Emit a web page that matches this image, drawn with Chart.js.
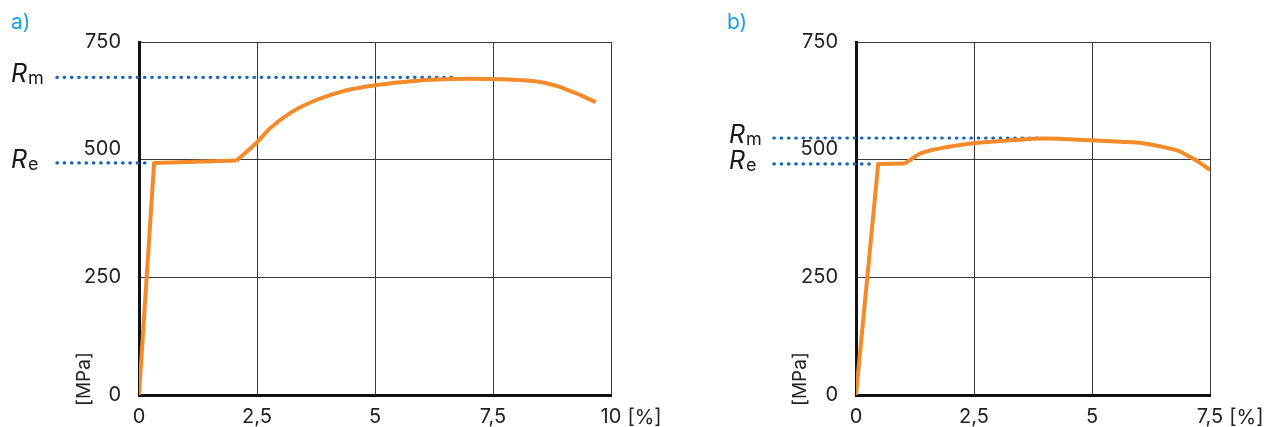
<!DOCTYPE html>
<html>
<head>
<meta charset="utf-8">
<script src="https://cdn.jsdelivr.net/npm/chart.js@4.4.0/dist/chart.umd.min.js"></script>
<style>
  body { margin: 0; background: #fff; width: 1274px; height: 427px; overflow: hidden; position: relative; }
  #chartA { position: absolute; left: 0; top: 0; }
  #chartB { position: absolute; left: 700px; top: 0; }
</style>
</head>
<body>
<canvas id="chartA" width="700" height="427"></canvas>
<canvas id="chartB" width="574" height="427"></canvas>
<script>
// panel a) - strain [%] vs stress [MPa]
const strainA = [0, 0.32, 2.07, 2.5, 2.78, 3.2, 3.62, 4.05, 4.47, 5.0, 5.6, 6.2, 7.0, 7.6, 8.1, 8.56, 8.9, 9.13, 9.4, 9.68];
const stressA = [0, 493, 498, 537, 567, 599, 621, 637, 649, 658, 665, 670, 672, 671, 669, 664, 655, 646, 635, 622];
const rmA = 675;
const reA = 493;
const rmLineA = [-1.74, 6.7];
const reLineA = [-1.74, 0.25];

// panel b)
const strainB = [0, 0.47, 1.04, 1.2, 1.36, 1.55, 1.78, 2.2, 2.5, 3.26, 4.0, 5.0, 5.6, 6.08, 6.59, 6.85, 7.0, 7.15, 7.29, 7.5];
const stressB = [0, 491, 492, 503, 513, 519, 524, 531, 535, 541, 545, 541, 538, 535, 525, 518, 510, 502, 493, 478];
const rmB = 546;
const reB = 491;
const rmLineB = [-1.74, 3.95];
const reLineB = [-1.74, 0.36];

const yTicks = [0, 250, 500, 750];

const orange = '#f58a2b';
const blue = '#1565b8';
const font = 'Inter, "Noto Sans", sans-serif';

const annotate = {
  id: 'annotate',
  afterDraw(chart, args, opts) {
    const { ctx, scales: { x, y } } = chart;
    ctx.save();
    ctx.textBaseline = 'alphabetic';
    ctx.textAlign = 'left';
    ctx.fillStyle = '#1ba1e2';
    ctx.font = '21px ' + font;
    ctx.fillText(opts.panel, opts.panelX, 29);

    [['m', opts.rm], ['e', opts.re]].forEach(([sub, v]) => {
      const py = y.getPixelForValue(v);
      ctx.fillStyle = '#1a1a1a';
      ctx.font = 'italic 25px ' + font;
      ctx.fillText('R', opts.rX, py + 5);
      const w = ctx.measureText('R').width;
      ctx.font = '18px ' + font;
      ctx.fillText(sub, opts.rX + w + 1, py + 7);
    });

    // unit labels
    ctx.fillStyle = '#222';
    ctx.font = '19px ' + font;
    ctx.textBaseline = 'middle';
    ctx.save();
    ctx.translate(opts.unitX, 406);
    ctx.rotate(-Math.PI / 2);
    ctx.fillText('[MPa]', 0, 0);
    ctx.restore();

    ctx.font = '20px ' + font;
    const last = x.max.toString().replace('.', ',');
    const lw = ctx.measureText(last).width;
    ctx.fillText('[%]', x.getPixelForValue(x.max) + lw / 2 + 6, x.top + 23);
    ctx.restore();
  }
};

const pts = (xs, ys) => xs.map((s, i) => ({ x: s, y: ys[i] }));

function makeChart(id, strain, stress, rmLine, reLine, rm, re, xMax, yWidth, padRight, extra) {
  const fmt = v => v.toString().replace('.', ',');
  const curve = { borderColor: orange, borderWidth: 4, pointRadius: 0, borderJoinStyle: 'round', order: 0 };
  const dots = { borderColor: blue, borderWidth: 3.2, borderDash: [0.5, 6.8], borderCapStyle: 'round',
                 pointRadius: 0, clip: false, order: 1 };
  return new Chart(document.getElementById(id), {
    type: 'line',
    data: {
      datasets: [
        // elastic part and yield plateau: straight segments
        Object.assign({ data: pts(strain.slice(0, 3), stress.slice(0, 3)), tension: 0 }, curve),
        // hardening and necking: smooth
        Object.assign({ data: pts(strain.slice(2), stress.slice(2)), cubicInterpolationMode: 'monotone' }, curve),
        Object.assign({ data: rmLine.map(s => ({ x: s, y: rm })) }, dots),
        Object.assign({ data: reLine.map(s => ({ x: s, y: re })) }, dots)
      ]
    },
    options: {
      responsive: false,
      animation: false,
      devicePixelRatio: 1,
      layout: { padding: { left: 0, top: 42, right: padRight, bottom: 0 } },
      plugins: {
        legend: { display: false },
        tooltip: { enabled: false },
        annotate: Object.assign({ rm: rm, re: re }, extra)
      },
      scales: {
        x: {
          type: 'linear', min: 0, max: xMax,
          afterFit: s => { s.height = 32; },
          ticks: { stepSize: 2.5, padding: 10, color: '#222', font: { family: font, size: 20 }, callback: fmt },
          grid: { color: '#3a3a3a', lineWidth: 1, drawTicks: false },
          border: { color: '#111', width: 3 }
        },
        y: {
          min: 0, max: 750,
          afterFit: s => { s.width = yWidth; },
          afterBuildTicks: s => { s.ticks = yTicks.map(v => ({ value: v })); },
          ticks: {
            padding: 18, color: '#222', font: { family: font, size: 20, lineHeight: 1.1 },
            callback: v => v === 500 ? ['500', ''] : String(v)
          },
          grid: { color: '#3a3a3a', lineWidth: 1, drawTicks: false },
          border: { color: '#111', width: 3 }
        }
      }
    },
    plugins: [annotate]
  });
}

makeChart('chartA', strainA, stressA, rmLineA, reLineA, rmA, reA, 10, 139, 89,
  { panel: 'a)', panelX: 11, rX: 11, unitX: 84 });
makeChart('chartB', strainB, stressB, rmLineB, reLineB, rmB, reB, 7.5, 156, 64,
  { panel: 'b)', panelX: 27, rX: 29, unitX: 100 });
</script>
</body>
</html>
